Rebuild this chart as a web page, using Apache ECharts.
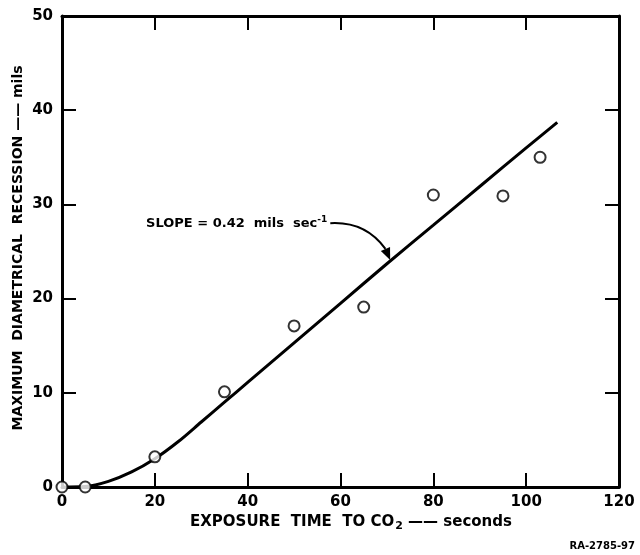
<!DOCTYPE html>
<html><head><meta charset="utf-8">
<script src="https://cdn.jsdelivr.net/npm/echarts@6/dist/echarts.min.js"></script>
<style>html,body{margin:0;padding:0;background:#fff}#c{width:640px;height:555px}</style>
</head><body><div id="c"></div>
<script>
const xTicks = [0, 20, 40, 60, 80, 100, 120];
const yTicks = [0, 10, 20, 30, 40, 50];
const obsX = [0, 5, 20, 35, 50, 65, 80, 95, 103];
const obsY = [0, 0, 3.2, 10.1, 17.1, 19.1, 31.0, 30.9, 35.0];
const fitX = [0, 5, 10, 15, 20, 25, 30, 35, 40, 50, 60, 70, 80, 90, 100, 106.7];
const fitY = [0, 0.05, 0.6, 1.6, 3.0, 4.8, 6.9, 9.0, 11.1, 15.3, 19.5, 23.7, 27.8, 31.9, 36.0, 38.7];
const slopeText = 'SLOPE = 0.42  mils  sec';
const arrowFrom = [57.8, 28.0];
const arrowTo = [70.7, 24.1];

const F = 'DejaVu Sans';
const chart = echarts.init(document.getElementById('c'));
function ax(extra) {
  return Object.assign({
    min: 0,
    axisLine: {show: true, onZero: false, lineStyle: {color: '#000', width: 3}},
    axisTick: {show: true, inside: true, length: 14, lineStyle: {color: '#000', width: 2}},
    splitLine: {show: false}
  }, extra);
}
const lab = {color: '#000', fontFamily: F, fontWeight: 'bold', fontSize: 15};
chart.setOption({
  animation: false,
  backgroundColor: '#fff',
  grid: {left: 62, top: 16, right: 21, bottom: 68},
  xAxis: [
    ax({type: 'value', position: 'bottom', max: 120, interval: 20,
      axisLabel: Object.assign({margin: 8}, lab)}),
    ax({type: 'value', position: 'top', max: 120, interval: 20, axisLabel: {show: false}})
  ],
  yAxis: [
    ax({type: 'value', position: 'left', max: 50, interval: 10,
      axisLabel: Object.assign({margin: 9}, lab)}),
    ax({type: 'value', position: 'right', max: 50, interval: 10, axisLabel: {show: false}})
  ],
  series: [
    {type: 'line', data: fitX.map((x, i) => [x, fitY[i]]), smooth: 0.3,
      symbol: 'none', lineStyle: {color: '#000', width: 3}, z: 2},
    {type: 'scatter', data: obsX.map((x, i) => [x, obsY[i]]), symbol: 'circle', symbolSize: 11,
      itemStyle: {color: '#fff', borderColor: '#000', borderWidth: 2}, z: 3, clip: false}
  ]
});

const p0 = chart.convertToPixel({xAxisIndex: 0, yAxisIndex: 0}, arrowFrom);
const p1 = chart.convertToPixel({xAxisIndex: 0, yAxisIndex: 0}, arrowTo);
const ang = Math.atan2(p1[1] - (p0[1] + 2), p1[0] - (p0[0] + 45));
const ah = 12, aw = 5;
const bx = p1[0] - ah * Math.cos(ang), by = p1[1] - ah * Math.sin(ang);

chart.setOption({
  graphic: [
    {type: 'text', x: 18, y: 248, rotation: Math.PI / 2, style: {
      text: 'MAXIMUM  DIAMETRICAL  RECESSION —— mils', fill: '#000',
      font: 'bold 14px "DejaVu Sans"', align: 'center', verticalAlign: 'middle'}},
    {type: 'text', x: 351, y: 522, style: {
      text: '{a|EXPOSURE  TIME  TO CO}{s|2}{a| —— seconds}', align: 'center', verticalAlign: 'middle',
      rich: {a: {fontFamily: F, fontWeight: 'bold', fontSize: 15, color: '#000'},
             s: {fontFamily: F, fontWeight: 'bold', fontSize: 11, color: '#000', padding: [8, 0, 0, 1]}}}},
    {type: 'text', x: 635, y: 546, style: {
      text: 'RA-2785-97', fill: '#000', font: 'bold 10px "DejaVu Sans"', align: 'right', verticalAlign: 'middle'}},
    {type: 'text', x: p0[0] - 3, y: p0[1], style: {
      text: '{a|' + slopeText + '}{s|-1}', align: 'right', verticalAlign: 'middle',
      rich: {a: {fontFamily: F, fontWeight: 'bold', fontSize: 13, color: '#000'},
             s: {fontFamily: F, fontWeight: 'bold', fontSize: 9, color: '#000', padding: [0, 0, 8, 0]}}}},
    {type: 'bezierCurve', shape: {x1: p0[0], y1: p0[1], x2: bx, y2: by,
      cpx1: p0[0] + 35, cpy1: p0[1] - 2},
      style: {stroke: '#000', lineWidth: 2, fill: null}},
    {type: 'polygon', shape: {points: [
      [p1[0], p1[1]],
      [bx + aw * Math.sin(ang), by - aw * Math.cos(ang)],
      [bx - aw * Math.sin(ang), by + aw * Math.cos(ang)]]},
      style: {fill: '#000'}}
  ]
});
</script></body></html>
